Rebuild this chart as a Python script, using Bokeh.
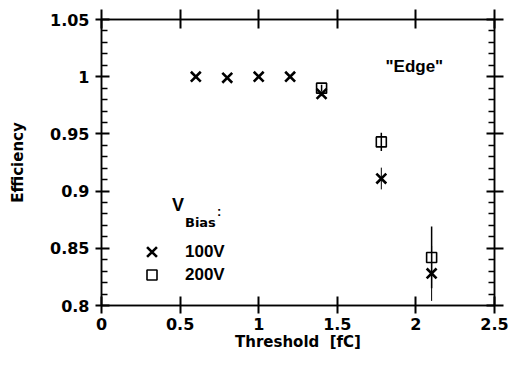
from bokeh.plotting import figure
from bokeh.models import (Range1d, LinearAxis, FixedTicker, CustomJSTickFormatter,
                          Label, Legend, LegendItem)
from bokeh.embed import file_html
from bokeh.resources import INLINE

# ---- data ----
x_ticks = [0, 0.5, 1, 1.5, 2, 2.5]
x_tick_labels = ["0", "0.5", "1", "1.5", "2", "2.5"]
y_ticks = [0.8, 0.85, 0.9, 0.95, 1.0, 1.05]
y_tick_labels = ["0.8", "0.85", "0.9", "0.95", "1", "1.05"]
y_minor = [0.81, 0.82, 0.83, 0.84, 0.86, 0.87, 0.88, 0.89, 0.91, 0.92, 0.93, 0.94,
           0.96, 0.97, 0.98, 0.99, 1.01, 1.02, 1.03, 1.04]

thr_100 = [0.6, 0.8, 1.0, 1.2, 1.4, 1.78, 2.1]
eff_100 = [1.0, 0.999, 1.0, 1.0, 0.985, 0.911, 0.828]
err_100 = [0.0, 0.0, 0.0, 0.0, 0.002, 0.0095, 0.024]

thr_200 = [1.4, 1.78, 2.1]
eff_200 = [0.99, 0.943, 0.842]
err_200 = [0.003, 0.008, 0.027]

FONT = "DejaVu Sans"
FONT2 = "Liberation Sans"

p = figure(width=512, height=365, output_backend="svg", toolbar_location=None,
           x_range=Range1d(0, 2.5), y_range=Range1d(0.8, 1.05),
           min_border_left=101, min_border_right=18, min_border_top=19, min_border_bottom=60)
p.background_fill_color = "white"
p.border_fill_color = "white"
p.outline_line_color = "black"
p.outline_line_width = 1.5
p.xgrid.visible = False
p.ygrid.visible = False

def style(ax, ticks, minor, labels, show_labels, tin, tout, min_in):
    ax.ticker = FixedTicker(ticks=ticks, minor_ticks=minor)
    ax.axis_line_color = "black"
    ax.axis_line_width = 1.5
    ax.major_tick_line_color = "black"
    ax.major_tick_line_width = 2
    ax.major_tick_in = tin
    ax.major_tick_out = tout
    ax.minor_tick_line_color = "black"
    ax.minor_tick_line_width = 1.5
    ax.minor_tick_in = min_in
    ax.minor_tick_out = 0
    if show_labels:
        ax.major_label_overrides = {t: l for t, l in zip(ticks, labels)}
        ax.major_label_text_font = FONT
        ax.major_label_text_font_style = "bold"
        ax.major_label_text_font_size = "16px"
        ax.major_label_text_color = "black"
    else:
        ax.formatter = CustomJSTickFormatter(code="return ''")
        ax.major_label_text_font_size = "0px"
    ax.axis_label_text_font = FONT
    ax.axis_label_text_font_style = "bold"
    ax.axis_label_text_font_size = "15px"
    ax.axis_label_text_color = "black"

xa = p.xaxis[0]
style(xa, x_ticks, [], x_tick_labels, True, 9, 8, 0)
xa.major_label_standoff = 4
xa.axis_label = "Threshold\u00a0 [fC]"
xa.axis_label_standoff = 0

ya = p.yaxis[0]
style(ya, y_ticks, y_minor, y_tick_labels, True, 8, 6, 6)
ya.major_label_standoff = 6
ya.axis_label = "Efficiency"
ya.axis_label_standoff = 20

top = LinearAxis()
style(top, x_ticks, [], x_tick_labels, False, 9, 10, 0)
p.add_layout(top, "above")
right = LinearAxis()
style(right, y_ticks, y_minor, y_tick_labels, False, 8, 9, 6)
p.add_layout(right, "right")

# error bars
lo200 = [e - d for e, d in zip(eff_200, err_200)]
hi200 = [e + d for e, d in zip(eff_200, err_200)]
lo100 = [e - d for e, d in zip(eff_100, err_100)]
hi100 = [e + d for e, d in zip(eff_100, err_100)]
p.segment(x0=thr_100, y0=lo100, x1=thr_100, y1=hi100, line_color="black", line_width=1)
p.segment(x0=thr_200, y0=lo200, x1=thr_200, y1=hi200, line_color="black", line_width=1.5)

r100 = p.scatter(thr_100, eff_100, marker="x", size=14, line_color="black", line_width=2.6)
r200 = p.scatter(thr_200, eff_200, marker="square", size=10, fill_color="white",
                 fill_alpha=0, line_color="black", line_width=1.6)

common = dict(margin=0, padding=0, spacing=0, border_line_color=None,
              background_fill_alpha=0, label_text_font=FONT2,
              label_text_font_style="bold", label_text_font_size="17px",
              label_text_color="black")
leg1 = Legend(items=[LegendItem(label="100V", renderers=[r100])],
              location=(33, 36), glyph_width=35, glyph_height=35, label_height=35,
              label_standoff=16, **common)
leg2 = Legend(items=[LegendItem(label="200V", renderers=[r200])],
              location=(38, 18), glyph_width=25, glyph_height=25, label_height=25,
              label_standoff=21, **common)
p.add_layout(leg1, "center")
p.add_layout(leg2, "center")

# V_Bias legend title (data positions)
p.add_layout(Label(x=0.448, y=0.8788, text="V", text_font=FONT2, text_font_style="bold",
                   text_font_size="18px", text_color="black"))
p.add_layout(Label(x=0.531, y=0.8664, text="Bias", text_font=FONT, text_font_style="bold",
                   text_font_size="13px", text_color="black"))
p.add_layout(Label(x=0.735, y=0.876, text=":", text_font=FONT2, text_font_style="bold",
                   text_font_size="13px", text_color="black"))
p.add_layout(Label(x=1.99, y=1.009, text='"Edge"', text_align="center",
                   text_baseline="middle", text_font=FONT2, text_font_style="bold",
                   text_font_size="17px", text_color="black"))

open("out.html", "w").write(file_html(p, INLINE))
